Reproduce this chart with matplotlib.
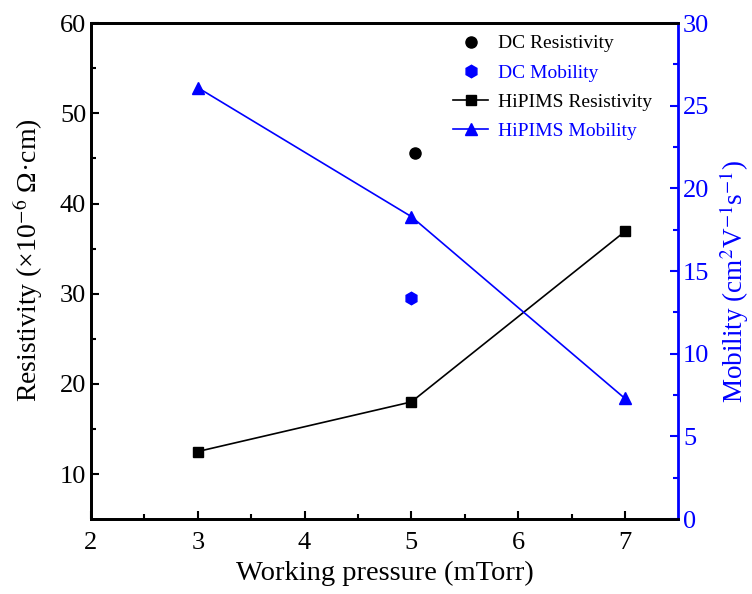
import numpy as np
import matplotlib
matplotlib.use('Agg')
import matplotlib.pyplot as plt

plt.rcParams['font.family'] = ['Liberation Serif', 'DejaVu Serif']
plt.rcParams['mathtext.fontset'] = 'stix'

# Data
pressure = [3, 5, 7]
hipims_res = [12.5, 18.0, 36.9]
hipims_mob = [26.1, 18.3, 7.3]
dc_pressure = [5.03]
dc_res = [45.6]
dc_mob_pressure = [5.0]
dc_mob = [13.4]

blue = '#0000ff'

fig = plt.figure(figsize=(7.52, 5.94), dpi=100)
ax = fig.add_axes([0.121, 0.126, 0.781, 0.835])
ax2 = ax.twinx()

h1, = ax.plot(dc_pressure, dc_res, 'o', color='black', markersize=8, linestyle='none',
              label='DC Resistivity')
h3, = ax.plot(pressure, hipims_res, 's-', color='black', markersize=7, linewidth=1.2,
              label='HiPIMS Resistivity')
h2, = ax2.plot(dc_mob_pressure, dc_mob, 'h', color=blue, markersize=9, linestyle='none',
               label='DC Mobility')
h4, = ax2.plot(pressure, hipims_mob, '^-', color=blue, markersize=8, linewidth=1.2,
               label='HiPIMS Mobility')

ax.set_xlim(2, 7.5)
ax.set_ylim(5, 60)
ax2.set_ylim(0, 30)

ax.set_xticks([2, 3, 4, 5, 6, 7])
ax.set_xticks(np.arange(2.5, 7.5, 1), minor=True)
ax.set_yticks([10, 20, 30, 40, 50, 60])
ax.set_yticks([15, 25, 35, 45, 55], minor=True)
ax2.set_yticks([0, 5, 10, 15, 20, 25, 30])
ax2.set_yticks(np.arange(2.5, 30, 5), minor=True)

ax.tick_params(which='both', direction='in', labelsize=19, width=1.5)
ax.tick_params(which='major', length=6)
ax.tick_params(which='minor', length=3.5)
ax.tick_params(axis='x', pad=9)
ax2.tick_params(which='both', direction='in', labelsize=19, width=1.5,
                colors=blue)
ax2.tick_params(which='major', length=6)
ax2.tick_params(which='minor', length=3.5)

for s in ax.spines.values():
    s.set_linewidth(2)
for s in ax2.spines.values():
    s.set_linewidth(2)
ax2.spines['right'].set_color(blue)
ax.spines['right'].set_visible(False)

ax.set_xlabel('Working pressure (mTorr)', fontsize=20.5, labelpad=5)
ax.set_ylabel('Resistivity (×10$^{-6}$ Ω·cm)', fontsize=20)
ax.yaxis.set_label_coords(-0.078, 0.522)
ax2.set_ylabel('Mobility (cm$^2$V$^{-1}$s$^{-1}$)', fontsize=19.5, color=blue)
ax2.yaxis.set_label_coords(1.066, 0.48)

leg = ax2.legend(handles=[h1, h2, h3, h4], loc='upper right',
                 bbox_to_anchor=(0.985, 1.012), frameon=False, fontsize=14,
                 handlelength=1.8, handletextpad=0.5, labelspacing=0.6)
for t, c in zip(leg.get_texts(), ['black', blue, 'black', blue]):
    t.set_color(c)

fig.savefig('out.png', dpi=100)
